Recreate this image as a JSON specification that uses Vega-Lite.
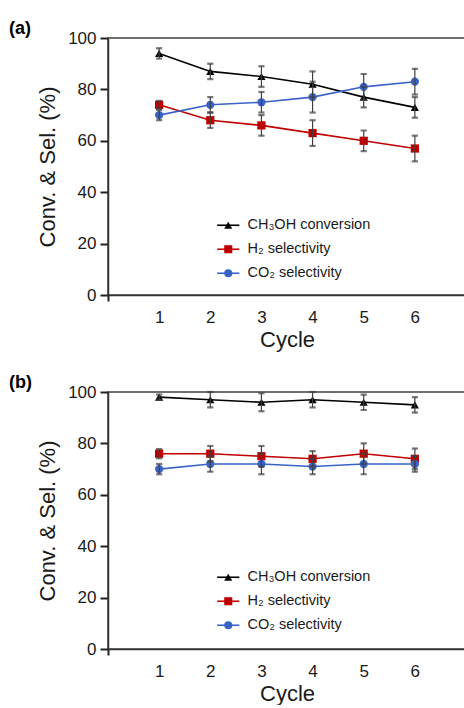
{
  "$schema": "https://vega.github.io/schema/vega-lite/v6.json",
  "padding": {"left": 8, "top": 19, "right": 0, "bottom": 0},
  "background": "white",
  "spacing": 22,
  "resolve": {"scale": {"color": "independent", "shape": "independent", "stroke": "independent"}, "legend": {"color": "independent", "shape": "independent", "stroke": "independent"}},
  "config": {
    "font": "Liberation Sans",
    "view": {"stroke": "#404040", "strokeWidth": 1.5},
    "axis": {
      "domainColor": "#333333", "domainWidth": 1.5, "tickWidth": 2, "ticks": true,
      "labelColor": "#1a1a1a", "titleColor": "#1a1a1a", "labelFontSize": 17, "titleFontSize": 22,
      "titleFontWeight": "normal", "grid": false, "labelFont": "Liberation Sans", "titleFont": "Liberation Sans"
    },
    "axisY": {"ticks": true, "tickSize": 8, "tickColor": "#222222", "tickWidth": 2, "tickOpacity": 1},
    "legend": {"orient": "none", "padding": 0, "labelColor": "#1a1a1a", "labelFont": "Liberation Sans"},
    "title": {"fontSize": 18, "fontWeight": "bold", "anchor": "start", "frame": "group", "dx": -99, "color": "black", "offset": -9}
  },
  "datasets": {
    "a": [
      {"series": "CH₃OH conversion", "cycle": 1, "value": 94, "lo": 92, "hi": 96},
      {"series": "CH₃OH conversion", "cycle": 2, "value": 87, "lo": 84, "hi": 90},
      {"series": "CH₃OH conversion", "cycle": 3, "value": 85, "lo": 81, "hi": 89},
      {"series": "CH₃OH conversion", "cycle": 4, "value": 82, "lo": 77, "hi": 87},
      {"series": "CH₃OH conversion", "cycle": 5, "value": 77, "lo": 73, "hi": 81},
      {"series": "CH₃OH conversion", "cycle": 6, "value": 73, "lo": 69, "hi": 77},
      {"series": "H₂ selectivity", "cycle": 1, "value": 74, "lo": 72.5, "hi": 75.5},
      {"series": "H₂ selectivity", "cycle": 2, "value": 68, "lo": 65, "hi": 71},
      {"series": "H₂ selectivity", "cycle": 3, "value": 66, "lo": 62, "hi": 70},
      {"series": "H₂ selectivity", "cycle": 4, "value": 63, "lo": 58, "hi": 68},
      {"series": "H₂ selectivity", "cycle": 5, "value": 60, "lo": 56, "hi": 64},
      {"series": "H₂ selectivity", "cycle": 6, "value": 57, "lo": 52, "hi": 62},
      {"series": "CO₂ selectivity", "cycle": 1, "value": 70, "lo": 68, "hi": 72},
      {"series": "CO₂ selectivity", "cycle": 2, "value": 74, "lo": 71, "hi": 77},
      {"series": "CO₂ selectivity", "cycle": 3, "value": 75, "lo": 71, "hi": 79},
      {"series": "CO₂ selectivity", "cycle": 4, "value": 77, "lo": 71, "hi": 83},
      {"series": "CO₂ selectivity", "cycle": 5, "value": 81, "lo": 76, "hi": 86},
      {"series": "CO₂ selectivity", "cycle": 6, "value": 83, "lo": 78, "hi": 88}
    ],
    "b": [
      {"series": "CH₃OH conversion", "cycle": 1, "value": 98, "lo": 97, "hi": 99},
      {"series": "CH₃OH conversion", "cycle": 2, "value": 97, "lo": 94, "hi": 100},
      {"series": "CH₃OH conversion", "cycle": 3, "value": 96, "lo": 92.5, "hi": 99.5},
      {"series": "CH₃OH conversion", "cycle": 4, "value": 97, "lo": 94, "hi": 100},
      {"series": "CH₃OH conversion", "cycle": 5, "value": 96, "lo": 93, "hi": 99},
      {"series": "CH₃OH conversion", "cycle": 6, "value": 95, "lo": 92, "hi": 98},
      {"series": "H₂ selectivity", "cycle": 1, "value": 76, "lo": 74.2, "hi": 77.8},
      {"series": "H₂ selectivity", "cycle": 2, "value": 76, "lo": 73, "hi": 79},
      {"series": "H₂ selectivity", "cycle": 3, "value": 75, "lo": 71, "hi": 79},
      {"series": "H₂ selectivity", "cycle": 4, "value": 74, "lo": 71, "hi": 77},
      {"series": "H₂ selectivity", "cycle": 5, "value": 76, "lo": 72, "hi": 80},
      {"series": "H₂ selectivity", "cycle": 6, "value": 74, "lo": 70, "hi": 78},
      {"series": "CO₂ selectivity", "cycle": 1, "value": 70, "lo": 68, "hi": 72},
      {"series": "CO₂ selectivity", "cycle": 2, "value": 72, "lo": 69, "hi": 75},
      {"series": "CO₂ selectivity", "cycle": 3, "value": 72, "lo": 68, "hi": 76},
      {"series": "CO₂ selectivity", "cycle": 4, "value": 71, "lo": 68, "hi": 74},
      {"series": "CO₂ selectivity", "cycle": 5, "value": 72, "lo": 68, "hi": 76},
      {"series": "CO₂ selectivity", "cycle": 6, "value": 72, "lo": 69, "hi": 75}
    ]
  },
  "vconcat": [
    {
      "title": {"text": "(a)"},
      "width": 358, "height": 257,
      "data": {"name": "a"},
      "encoding": {
        "x": {"field": "cycle", "type": "quantitative", "scale": {"domain": [0, 7], "nice": false},
          "axis": {"values": [0, 1, 2, 3, 4, 5, 6], "labelExpr": "datum.value == 0 ? '' : datum.label",
            "tickColor": {"condition": {"test": "datum.value == 0", "value": "#222222"}, "value": "transparent"},
            "tickSize": 6, "labelPadding": 8, "title": "Cycle", "titlePadding": 4}}
      },
      "layer": [
        {"mark": {"type": "line", "strokeWidth": 1.6},
          "encoding": {
            "y": {"field": "value", "type": "quantitative", "title": "Conv. & Sel. (%)", "scale": {"domain": [0, 100], "nice": false},
              "axis": {"values": [0, 10, 20, 30, 40, 50, 60, 70, 80, 90, 100], "labelExpr": "datum.value % 20 == 0 ? datum.label : ''", "ticks": true,
                "tickColor": "#222222", "tickOpacity": 1, "tickSize": 8, "labelPadding": 4, "titlePadding": 8}},
            "stroke": {"field": "series", "type": "nominal", "sort": null,
              "scale": {"range": ["#000000", "#c00000", "#3a63c8"]},
              "legend": {"title": null, "orient": "none", "legendX": 113, "legendY": 180, "symbolType": "M-2.75,0H2.75", "symbolSize": 65, "symbolStrokeWidth": 1.6, "labelFontSize": 14.5, "labelOffset": 12, "rowPadding": 9, "padding": 0}}
          }},
        {"mark": {"type": "point", "filled": true, "opacity": 1, "size": 68},
          "encoding": {
            "y": {"field": "value", "type": "quantitative", "title": "Conv. & Sel. (%)"},
            "color": {"field": "series", "type": "nominal",
              "scale": {"domain": ["CH₃OH conversion", "H₂ selectivity", "CO₂ selectivity"], "range": ["#000000", "#c00000", "#3a63c8"]},
              "legend": {"title": null, "orient": "none", "legendX": 113, "legendY": 180, "symbolSize": 65, "labelExpr": "''", "labelFontSize": 14.5, "labelOffset": -15, "rowPadding": 9, "padding": 0}},
            "shape": {"field": "series", "type": "nominal",
              "scale": {"domain": ["CH₃OH conversion", "H₂ selectivity", "CO₂ selectivity"], "range": ["triangle-up", "square", "circle"]},
              "legend": {"title": null, "orient": "none", "legendX": 113, "legendY": 180, "symbolSize": 65, "labelExpr": "''", "labelFontSize": 14.5, "labelOffset": -15, "rowPadding": 9, "padding": 0}}
          }},
        {"mark": {"type": "errorbar", "rule": {"stroke": "#404040", "strokeWidth": 1.2}, "ticks": {"stroke": "#404040", "size": 5, "strokeWidth": 1.2}},
          "encoding": {
            "y": {"field": "lo", "type": "quantitative", "title": "Conv. & Sel. (%)"},
            "y2": {"field": "hi"}
          }}
      ]
    },
    {
      "title": {"text": "(b)"},
      "width": 358, "height": 257,
      "data": {"name": "b"},
      "encoding": {
        "x": {"field": "cycle", "type": "quantitative", "scale": {"domain": [0, 7], "nice": false},
          "axis": {"values": [0, 1, 2, 3, 4, 5, 6], "labelExpr": "datum.value == 0 ? '' : datum.label",
            "tickColor": {"condition": {"test": "datum.value == 0", "value": "#222222"}, "value": "transparent"},
            "tickSize": 6, "labelPadding": 8, "title": "Cycle", "titlePadding": 4}}
      },
      "layer": [
        {"mark": {"type": "line", "strokeWidth": 1.6},
          "encoding": {
            "y": {"field": "value", "type": "quantitative", "title": "Conv. & Sel. (%)", "scale": {"domain": [0, 100], "nice": false},
              "axis": {"values": [0, 10, 20, 30, 40, 50, 60, 70, 80, 90, 100], "labelExpr": "datum.value % 20 == 0 ? datum.label : ''", "ticks": true,
                "tickColor": "#222222", "tickOpacity": 1, "tickSize": 8, "labelPadding": 4, "titlePadding": 8}},
            "stroke": {"field": "series", "type": "nominal", "sort": null,
              "scale": {"range": ["#000000", "#c00000", "#3a63c8"]},
              "legend": {"title": null, "orient": "none", "legendX": 113, "legendY": 178, "symbolType": "M-2.75,0H2.75", "symbolSize": 65, "symbolStrokeWidth": 1.6, "labelFontSize": 14.5, "labelOffset": 12, "rowPadding": 9, "padding": 0}}
          }},
        {"mark": {"type": "point", "filled": true, "opacity": 1, "size": 68},
          "encoding": {
            "y": {"field": "value", "type": "quantitative", "title": "Conv. & Sel. (%)"},
            "color": {"field": "series", "type": "nominal",
              "scale": {"domain": ["CH₃OH conversion", "H₂ selectivity", "CO₂ selectivity"], "range": ["#000000", "#c00000", "#3a63c8"]},
              "legend": {"title": null, "orient": "none", "legendX": 113, "legendY": 178, "symbolSize": 65, "labelExpr": "''", "labelFontSize": 14.5, "labelOffset": -15, "rowPadding": 9, "padding": 0}},
            "shape": {"field": "series", "type": "nominal",
              "scale": {"domain": ["CH₃OH conversion", "H₂ selectivity", "CO₂ selectivity"], "range": ["triangle-up", "square", "circle"]},
              "legend": {"title": null, "orient": "none", "legendX": 113, "legendY": 178, "symbolSize": 65, "labelExpr": "''", "labelFontSize": 14.5, "labelOffset": -15, "rowPadding": 9, "padding": 0}}
          }},
        {"mark": {"type": "errorbar", "rule": {"stroke": "#404040", "strokeWidth": 1.2}, "ticks": {"stroke": "#404040", "size": 5, "strokeWidth": 1.2}},
          "encoding": {
            "y": {"field": "lo", "type": "quantitative", "title": "Conv. & Sel. (%)"},
            "y2": {"field": "hi"}
          }}
      ]
    }
  ]
}
